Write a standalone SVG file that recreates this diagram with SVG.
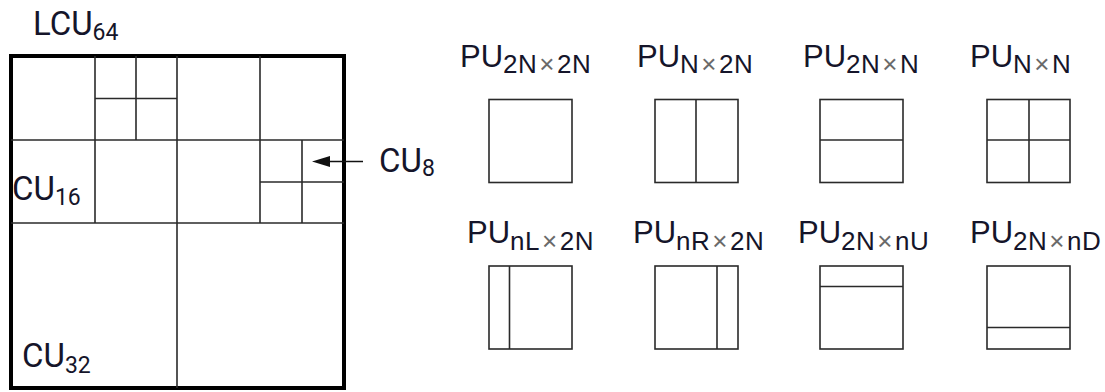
<svg xmlns="http://www.w3.org/2000/svg" width="1105" height="392" viewBox="0 0 1105 392">
<style>
.bg{fill:#ffffff}
.outer{fill:none;stroke:#000;stroke-width:4}
.ln{stroke:#2a2a2a;stroke-width:1.6;fill:none}
.box{fill:none;stroke:#2a2a2a;stroke-width:1.6}
.cu{font-family:Roboto,"Liberation Sans",sans-serif;font-size:33px;fill:#15152a}
.cu .sub{font-size:23px}
.pu{font-family:"Liberation Sans",Arial,sans-serif;font-size:31px;fill:#15152a}
.pu .sub{font-size:26px;letter-spacing:0.5px}
.pu .x{fill:#6a6a6a}
.arr{stroke:#111;stroke-width:1.6;fill:none}
.head{fill:#111}
</style>
<rect class="bg" x="0" y="0" width="1105" height="392"/>

<g id="lcu64">
  <rect class="outer" x="11" y="56" width="333" height="332"/>
  <line class="ln" x1="177" y1="56" x2="177" y2="388"/>
  <line class="ln" x1="11" y1="223" x2="344" y2="223"/>
  <line class="ln" x1="95" y1="56" x2="95" y2="223"/>
  <line class="ln" x1="260" y1="56" x2="260" y2="223"/>
  <line class="ln" x1="11" y1="140" x2="344" y2="140"/>
  <line class="ln" x1="136" y1="56" x2="136" y2="140"/>
  <line class="ln" x1="95" y1="98.5" x2="177" y2="98.5"/>
  <line class="ln" x1="302" y1="140" x2="302" y2="223"/>
  <line class="ln" x1="260" y1="182" x2="344" y2="182"/>
  <text class="cu" x="33" y="35">LCU<tspan class="sub" dy="5">64</tspan></text>
</g>
<g id="cu16"><text class="cu" x="12" y="200">CU<tspan class="sub" dy="5">16</tspan></text></g>
<g id="cu32"><text class="cu" x="22" y="367">CU<tspan class="sub" dy="6">32</tspan></text></g>
<g id="cu8"><text class="cu" x="379" y="172">CU<tspan class="sub" dy="4">8</tspan></text></g>

<g id="connectors">
  <line class="arr" x1="363" y1="161.5" x2="328" y2="161.5"/>
  <polygon class="head" points="312,161.5 330,156 330,167"/>
</g>

<g id="pu-2Nx2N">
  <text class="pu" x="460" y="67">PU<tspan class="sub" dy="6">2N<tspan class="x" dx="2">×</tspan><tspan dx="2">2N</tspan></tspan></text>
  <rect class="box" x="489" y="99.5" width="83" height="83"/>
</g>
<g id="pu-Nx2N">
  <text class="pu" x="637" y="67">PU<tspan class="sub" dy="6">N<tspan class="x" dx="2">×</tspan><tspan dx="2">2N</tspan></tspan></text>
  <rect class="box" x="655" y="99.5" width="83" height="83"/>
  <line class="ln" x1="696" y1="99.5" x2="696" y2="182.5"/>
</g>
<g id="pu-2NxN">
  <text class="pu" x="803" y="67">PU<tspan class="sub" dy="6">2N<tspan class="x" dx="2">×</tspan><tspan dx="2">N</tspan></tspan></text>
  <rect class="box" x="820" y="99.5" width="83" height="83"/>
  <line class="ln" x1="820" y1="140" x2="903" y2="140"/>
</g>
<g id="pu-NxN">
  <text class="pu" x="970" y="67">PU<tspan class="sub" dy="6">N<tspan class="x" dx="2">×</tspan><tspan dx="2">N</tspan></tspan></text>
  <rect class="box" x="987" y="99.5" width="83" height="83"/>
  <line class="ln" x1="1029" y1="99.5" x2="1029" y2="182.5"/>
  <line class="ln" x1="987" y1="140" x2="1070" y2="140"/>
</g>

<g id="pu-nLx2N">
  <text class="pu" x="467" y="243">PU<tspan class="sub" dy="7">nL<tspan class="x" dx="2">×</tspan><tspan dx="2">2N</tspan></tspan></text>
  <rect class="box" x="489" y="266" width="83" height="83"/>
  <line class="ln" x1="509.5" y1="266" x2="509.5" y2="349"/>
</g>
<g id="pu-nRx2N">
  <text class="pu" x="633" y="243">PU<tspan class="sub" dy="7">nR<tspan class="x" dx="2">×</tspan><tspan dx="2">2N</tspan></tspan></text>
  <rect class="box" x="655" y="266" width="83" height="83"/>
  <line class="ln" x1="717" y1="266" x2="717" y2="349"/>
</g>
<g id="pu-2NxnU">
  <text class="pu" x="798" y="243">PU<tspan class="sub" dy="7">2N<tspan class="x" dx="2">×</tspan><tspan dx="2">nU</tspan></tspan></text>
  <rect class="box" x="820" y="266" width="83" height="83"/>
  <line class="ln" x1="820" y1="286.5" x2="903" y2="286.5"/>
</g>
<g id="pu-2NxnD">
  <text class="pu" x="970" y="243">PU<tspan class="sub" dy="7">2N<tspan class="x" dx="2">×</tspan><tspan dx="2">nD</tspan></tspan></text>
  <rect class="box" x="987" y="266" width="83" height="83"/>
  <line class="ln" x1="987" y1="327.5" x2="1070" y2="327.5"/>
</g>
</svg>
